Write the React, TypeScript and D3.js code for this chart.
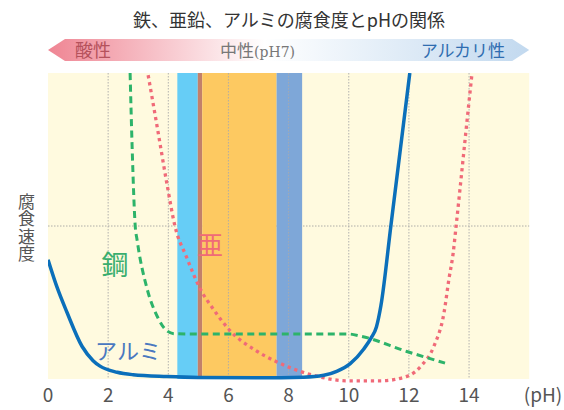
import React from "react";
import * as d3 from "d3";

const title = "鉄、亜鉛、アルミの腐食度とpHの関係";
const xTicks = [0, 2, 4, 6, 8, 10, 12, 14];
const yLabel = "腐食速度";

// [pH, relative corrosion rate]
const aluminium: [number, number][] = [
  [0, 0.39], [0.3, 0.3], [0.63, 0.218], [1.13, 0.107], [1.5, 0.06], [1.73, 0.042],
  [2.3, 0.022], [2.83, 0.014], [3.95, 0.008], [5, 0.005], [7, 0.004], [8.5, 0.006],
  [9.17, 0.012], [9.6, 0.025], [10.05, 0.05], [10.5, 0.098], [10.75, 0.135],
  [10.92, 0.17], [11.07, 0.24], [11.4, 0.5], [12.03, 1.0],
];
const steel: [number, number][] = [
  [2.73, 1.0], [2.8, 0.75], [2.9, 0.5], [2.96, 0.456], [3.3, 0.293], [3.63, 0.205],
  [3.95, 0.158], [4.2, 0.148], [5, 0.147], [10, 0.147], [10.4, 0.14], [11.93, 0.09],
  [13.2, 0.052],
];
const zinc: [number, number][] = [
  [3.33, 0.993], [3.63, 0.824], [3.97, 0.629], [4.22, 0.5], [4.6, 0.4], [5.07, 0.293],
  [5.5, 0.228], [6.07, 0.156], [6.83, 0.098], [7.63, 0.055], [8.83, 0.012],
  [9.97, -0.006], [11.07, -0.006], [11.97, 0.01], [12.4, 0.042], [12.83, 0.107],
  [13.17, 0.218], [13.33, 0.326], [13.47, 0.41], [13.57, 0.5], [13.8, 0.717],
  [13.97, 0.879], [14.1, 1.0],
];
// pH ranges of the coloured bands
const bands: { from: number; to: number; color: string }[] = [
  { from: 4.3, to: 4.98, color: "#66cdf6" },
  { from: 4.98, to: 5.13, color: "#c2806a" },
  { from: 5.13, to: 7.6, color: "#fdc961" },
  { from: 7.6, to: 8.45, color: "#7ea7d8" },
];

export default function App() {
  const W = 564, H = 410;
  const x = d3.scaleLinear().domain([0, 16]).range([48, 529.2]);
  const y = d3.scaleLinear().domain([0, 1]).range([379, 73]);
  const line = d3
    .line<[number, number]>()
    .x((d) => x(d[0]))
    .y((d) => y(d[1]))
    .curve(d3.curveMonotoneX);
  const font = "'Noto Sans CJK JP', 'Noto Sans', sans-serif";
  const x0 = x(0), x1 = x(16);
  const ay0 = 39, ay1 = 61, amid = 50, head = 17;
  const arrowPath = `M${x0},${amid} L${x0 + head},${ay0} L${x1 - head},${ay0} L${x1},${amid} L${x1 - head},${ay1} L${x0 + head},${ay1} Z`;

  return (
    <svg width={W} height={H} style={{ position: "absolute", left: 0, top: 0, background: "#fff" }} fontFamily={font}>
      <defs>
        <linearGradient id="arrowGrad" x1="0" x2="1" y1="0" y2="0">
          <stop offset="0" stopColor="#ef8593" />
          <stop offset="0.45" stopColor="#ffffff" />
          <stop offset="1" stopColor="#c2d9ef" />
        </linearGradient>
        <clipPath id="plotClip">
          <rect x={x0} y={y(1)} width={x1 - x0} height={y(0) - y(1) + 6} />
        </clipPath>
      </defs>

      <text x={289} y={27} textAnchor="middle" fontSize={18} fill="#333">{title}</text>

      <path d={arrowPath} fill="url(#arrowGrad)" />
      <text x={75} y={57} fontSize={18} fill="#b5525c">酸性</text>
      <text x={220} y={57} fontSize={17} fill="#777">中性<tspan fontSize={14} fontFamily="'DejaVu Serif', serif">(pH7)</tspan></text>
      <text x={505} y={57} textAnchor="end" fontSize={17} fill="#2f6db0">アルカリ性</text>

      <rect x={x0} y={y(1)} width={x1 - x0} height={y(0) - y(1)} fill="#fffadf" />
      <line x1={x0} x2={x1} y1={y(0.5)} y2={y(0.5)} stroke="#999" strokeWidth={0.8} strokeDasharray="1.5 1.5" />
      {bands.map((b, i) => (
        <rect key={i} x={x(b.from)} y={y(1)} width={x(b.to) - x(b.from)} height={y(0) - y(1)} fill={b.color} />
      ))}
      {xTicks.slice(1).map((t) => (
        <line key={t} x1={x(t)} x2={x(t)} y1={y(1)} y2={y(0)} stroke="#aaa" strokeWidth={0.9} strokeDasharray="1.5 1.5" />
      ))}

      <g clipPath="url(#plotClip)" fill="none">
        <path d={line(zinc) || ""} stroke="#f06a78" strokeWidth={3.3} strokeDasharray="3.3 3.8" />
        <path d={line(steel) || ""} stroke="#2db36a" strokeWidth={3} strokeDasharray="7 4.5" />
        <path d={line(aluminium) || ""} stroke="#0b6fba" strokeWidth={3.5} />
      </g>

      <text x={115} y={275} textAnchor="middle" fontSize={27} fill="#3aae6e">鋼</text>
      <text x={210} y={255} textAnchor="middle" fontSize={26} fill="#f06a78">亜</text>
      <text x={128} y={359} textAnchor="middle" fontSize={22} fill="#4a78c0">アルミ</text>

      <text x={26.5} y={193} fontSize={17} fill="#555" style={{ writingMode: "vertical-rl" }} letterSpacing={0.5}>{yLabel}</text>

      {xTicks.map((t) => (
        <text key={t} x={x(t)} y={402} textAnchor="middle" fontSize={19} fill="#555">{t}</text>
      ))}
      <text x={543} y={402} textAnchor="middle" fontSize={19} fill="#555">(pH)</text>
    </svg>
  );
}
